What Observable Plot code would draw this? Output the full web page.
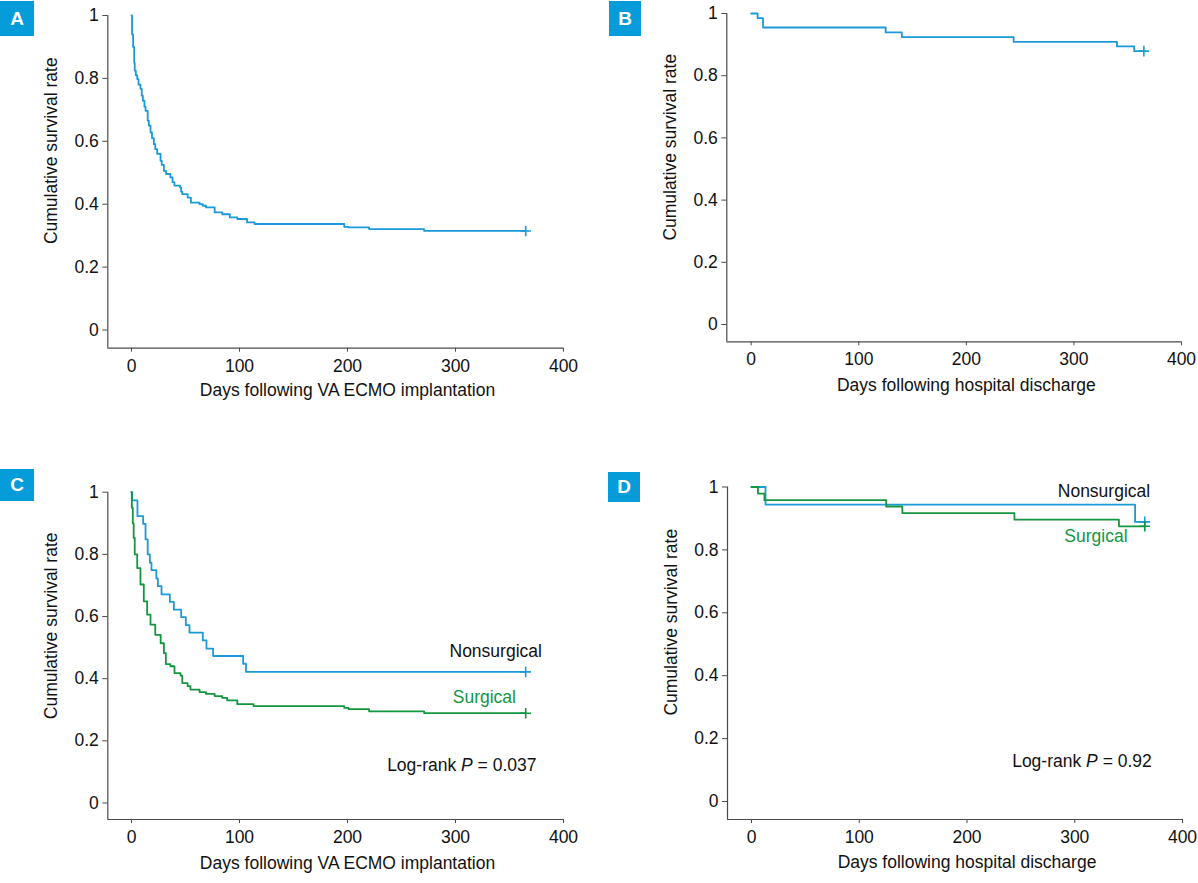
<!DOCTYPE html>
<html>
<head>
<meta charset="utf-8">
<script src="https://cdn.jsdelivr.net/npm/d3@7"></script>
<script src="https://cdn.jsdelivr.net/npm/@observablehq/plot@0.6"></script>
<style>
  html, body { margin: 0; padding: 0; background: #fff; }
  #root { position: relative; width: 1198px; height: 883px; overflow: hidden;
          font-family: "Liberation Sans", Arial, sans-serif; }
  .panel { position: absolute; }
  .badge { position: absolute; background: #069bd9; color: #fff; font-weight: bold;
           font-family: "Liberation Sans", Arial, sans-serif; font-size: 19px;
           display: flex; align-items: center; justify-content: center; }
</style>
</head>
<body>
<div id="root"></div>
<script>
// ---------------- data ----------------
const panelLetters = ["A", "B", "C", "D"];
const xTicks = [0, 100, 200, 300, 400];
const yTicks = [0, 0.2, 0.4, 0.6, 0.8, 1];
const yTickLabels = ["0", "0.2", "0.4", "0.6", "0.8", "1"];
const yTitle = "Cumulative survival rate";
const xTitles = ["Days following VA ECMO implantation", "Days following hospital discharge",
                 "Days following VA ECMO implantation", "Days following hospital discharge"];
const groupNames = ["Nonsurgical", "Surgical"];
const logRankP = ["0.037", "0.92"];

// Panel A: all patients, survival after VA ECMO implantation
const aDays = [0, 0.5, 1.5, 2.5, 3, 4, 5.3, 6.5, 8.3, 9.5, 10.5, 12, 13, 15, 16, 17.6, 19, 20.7, 22, 23.8,
               26.9, 28, 30, 32, 36, 38, 39.7, 45, 46, 47, 52, 55, 63, 66, 69, 77, 84, 91, 98, 107,
               114, 197, 201, 220, 271, 365];
const aSurv = [1, 0.94, 0.9, 0.85, 0.825, 0.81, 0.798, 0.78, 0.767, 0.745, 0.729, 0.71, 0.697, 0.666, 0.65, 0.628, 0.61, 0.591, 0.575, 0.56,
               0.538, 0.525, 0.506, 0.496, 0.485, 0.47, 0.459, 0.453, 0.44, 0.432, 0.421, 0.405, 0.4, 0.395, 0.39, 0.374, 0.368, 0.358, 0.353, 0.342,
               0.337, 0.328, 0.326, 0.321, 0.315, 0.315];

// Panel B: survivors, after hospital discharge
const bDays = [0, 6, 11, 125, 140, 244, 340, 356, 365];
const bSurv = [1, 0.985, 0.955, 0.939, 0.924, 0.909, 0.894, 0.879, 0.879];

// Panel C: by group, after VA ECMO implantation
const cNonDays = [0, 0.5, 5.5, 10.8, 13, 15, 17, 18.5, 23, 24.4, 27.8, 35.5, 39.2, 46, 50.3, 53.7, 66, 69.4, 75.6, 103.4, 106, 365];
const cNonSurv = [1, 0.974, 0.923, 0.898, 0.848, 0.8, 0.773, 0.749, 0.723, 0.698, 0.671, 0.647, 0.622, 0.598, 0.572, 0.548, 0.523, 0.497, 0.473, 0.448, 0.422, 0.422];
const cSurDays = [0, 0.3, 1.2, 2, 3, 5.3, 8.3, 11.4, 14.5, 17.6, 22, 27, 30, 31.8, 36, 39.8, 45.4, 47, 52, 54.6,
                  63, 69, 77, 84, 88.6, 98, 113, 197, 201, 220, 271, 365];
const cSurSurv = [1, 0.95, 0.9, 0.853, 0.8, 0.756, 0.703, 0.649, 0.606, 0.574, 0.541, 0.514, 0.482, 0.447, 0.44, 0.418, 0.41, 0.386, 0.376, 0.365,
                  0.357, 0.351, 0.344, 0.338, 0.33, 0.318, 0.312, 0.306, 0.302, 0.295, 0.289, 0.289];

// Panel D: by group, after hospital discharge
const dNonDays = [0, 13, 356, 365];
const dNonSurv = [1, 0.944, 0.889, 0.889];
const dSurDays = [0, 6, 12, 125, 140, 244, 341, 365];
const dSurSurv = [1, 0.979, 0.958, 0.938, 0.917, 0.896, 0.875, 0.875];

// ---------------- styles / layout ----------------
const BLUE = "#1a9ad8";
const GREEN = "#13963f";
const AXIS = "#4a4a4a";
const FONT = '"Liberation Sans", Arial, sans-serif';
const TICK_FS = 17.5;
const LABEL_FS = 17.5;

const layouts = [
  {left: 0,   top: 0,   width: 600, height: 420, axisL: 107.3, x0: 131,   x400: 563,  y1: 15,    y0: 329.5, axisB: 347.7, titleDy: 48},
  {left: 600, top: 0,   width: 598, height: 420, axisL: 726.3, x0: 750.7, x400: 1181, y1: 13,    y0: 324,   axisB: 341.3, titleDy: 49},
  {left: 0,   top: 440, width: 600, height: 443, axisL: 107.3, x0: 131,   x400: 563,  y1: 491.7, y0: 802.5, axisB: 819,   titleDy: 49},
  {left: 600, top: 440, width: 598, height: 443, axisL: 727,   x0: 751,   x400: 1182, y1: 486.5, y0: 801,   axisB: 819,   titleDy: 48}
];
const badges = [
  {left: 0, top: 1, w: 34, h: 35}, {left: 609, top: 1, w: 32, h: 35},
  {left: 0, top: 469, w: 34, h: 32}, {left: 608, top: 472, w: 32, h: 30}
];

const toRows = (days, surv) => days.map((d, i) => ({d, s: surv[i]}));

const seriesByPanel = [
  [{rows: toRows(aDays, aSurv), color: BLUE}],
  [{rows: toRows(bDays, bSurv), color: BLUE}],
  [{rows: toRows(cNonDays, cNonSurv), color: BLUE}, {rows: toRows(cSurDays, cSurSurv), color: GREEN}],
  [{rows: toRows(dNonDays, dNonSurv), color: BLUE}, {rows: toRows(dSurDays, dSurSurv), color: GREEN}]
];
const notesByPanel = [
  [], [],
  [{x: 380, y: 0.487, text: groupNames[0], fill: "#111"},
   {x: 356, y: 0.340, text: groupNames[1], fill: GREEN},
   {x: 375, y: 0.120, text: "Log-rank P = " + logRankP[0], fill: "#111"}],
  [{x: 370, y: 0.987, text: groupNames[0], fill: "#111"},
   {x: 349, y: 0.842, text: groupNames[1], fill: GREEN},
   {x: 371.5, y: 0.128, text: "Log-rank P = " + logRankP[1], fill: "#111"}]
];

const root = document.getElementById("root");

layouts.forEach((L, p) => {
  const k = (L.x400 - L.x0) / 400;
  const xmin = -(L.x0 - L.axisL) / k;
  const ymin = -(L.axisB - L.y0) / (L.y0 - L.y1);
  const marks = [
    Plot.ruleX([xmin], {y1: ymin, y2: 1, stroke: AXIS, strokeWidth: 1.2}),
    Plot.ruleY([ymin], {x1: xmin, x2: 400, stroke: AXIS, strokeWidth: 1.2}),
    Plot.axisY({ticks: yTicks, tickFormat: d => yTickLabels[yTicks.indexOf(d)], tickSize: 5, tickPadding: 4,
                label: null, stroke: AXIS, fill: "#111", fontSize: TICK_FS}),
    Plot.axisX({ticks: xTicks, tickFormat: d => String(d), tickSize: 4, tickPadding: 7,
                label: null, stroke: AXIS, fill: "#111", fontSize: TICK_FS}),
    Plot.text([xTitles[p]], {x: 200, frameAnchor: "bottom", dy: L.titleDy, text: d => d,
                             textAnchor: "middle", fill: "#111", fontSize: LABEL_FS}),
    Plot.text([yTitle], {y: 0.57, frameAnchor: "left", dx: -56, rotate: -90, text: d => d,
                         textAnchor: "middle", fill: "#111", fontSize: LABEL_FS})
  ];
  for (const s of seriesByPanel[p]) {
    marks.push(Plot.line(s.rows, {x: "d", y: "s", curve: "step-after", stroke: s.color, strokeWidth: 1.8}));
    marks.push(Plot.dot([s.rows[s.rows.length - 1]], {x: "d", y: "s", symbol: "plus", r: 3.5,
                                                       stroke: s.color, strokeWidth: 1.6}));
  }
  for (const n of notesByPanel[p]) {
    marks.push(Plot.text([n], {x: "x", y: "y", text: "text", fill: "fill", textAnchor: "end", fontSize: LABEL_FS}));
  }
  const svg = Plot.plot({
    width: L.width,
    height: L.height,
    marginLeft: L.axisL - L.left,
    marginRight: L.left + L.width - L.x400,
    marginTop: L.y1 - L.top,
    marginBottom: L.top + L.height - L.axisB,
    x: {domain: [xmin, 400]},
    y: {domain: [ymin, 1]},
    style: {fontFamily: FONT, fontSize: TICK_FS + "px", background: "transparent", overflow: "visible", color: "#111"},
    marks
  });
  // italic P in the log-rank annotations
  d3.select(svg).selectAll("text").each(function () {
    const t = this.textContent;
    if (t.startsWith("Log-rank P")) {
      const rest = t.slice("Log-rank P".length);
      const sel = d3.select(this);
      sel.text(null);
      sel.append("tspan").text("Log-rank ");
      sel.append("tspan").attr("font-style", "italic").text("P");
      sel.append("tspan").text(rest);
    }
  });
  const wrap = document.createElement("div");
  wrap.className = "panel";
  wrap.style.left = L.left + "px";
  wrap.style.top = L.top + "px";
  wrap.appendChild(svg);
  root.appendChild(wrap);
});

badges.forEach((b, i) => {
  const el = document.createElement("div");
  el.className = "badge";
  el.style.left = b.left + "px";
  el.style.top = b.top + "px";
  el.style.width = b.w + "px";
  el.style.height = b.h + "px";
  el.textContent = panelLetters[i];
  root.appendChild(el);
});
</script>
</body>
</html>
